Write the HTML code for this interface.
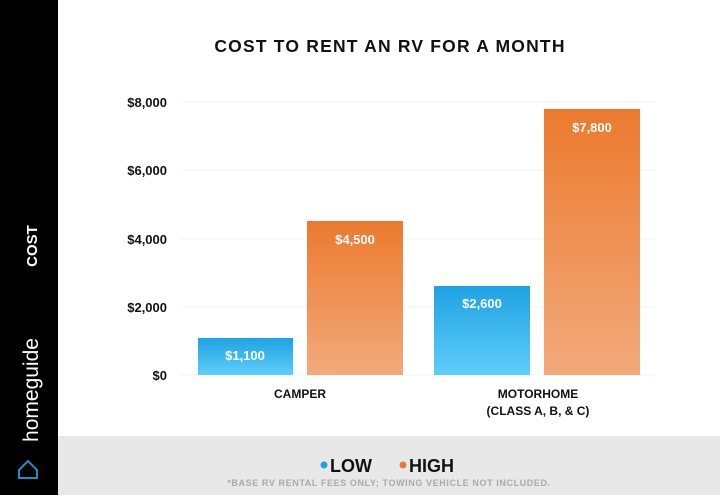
<!DOCTYPE html>
<html><head><style>
body{margin:0;width:720px;height:495px;overflow:hidden;background:#fff;font-family:"Liberation Sans",sans-serif;}
</style></head><body>
<svg width="720" height="495" viewBox="0 0 720 495" xmlns="http://www.w3.org/2000/svg" font-family="Liberation Sans, sans-serif">
<defs>
<linearGradient id="b" x1="0" y1="0" x2="0" y2="1"><stop offset="0" stop-color="#1fa2e4"/><stop offset="1" stop-color="#5fcdf9"/></linearGradient>
<linearGradient id="o" x1="0" y1="0" x2="0" y2="1"><stop offset="0" stop-color="#ec7a2e"/><stop offset="1" stop-color="#f2aa7c"/></linearGradient>
</defs>
<rect x="0" y="0" width="58" height="495" fill="#000"/>
<rect x="58" y="436" width="662" height="59" fill="#e8e8e8"/>
<text x="390" y="52" font-size="17.5" font-weight="bold" text-anchor="middle" fill="#111" letter-spacing="1.2">COST TO RENT AN RV FOR A MONTH</text>
<text transform="translate(37,246) rotate(-90)" font-size="15" font-weight="bold" fill="#fff" text-anchor="middle">COST</text>
<text transform="translate(38,390) rotate(-90)" font-size="21" fill="#fff" text-anchor="middle">homeguide</text>
<path d="M19 470 L28 461 L37 470 L37 478 L19 478 Z" fill="none" stroke="#1a8fc4" stroke-width="2"/>
<g stroke="#f3f3f3" stroke-width="1">
<line x1="180" y1="102" x2="655" y2="102"/><line x1="180" y1="170" x2="655" y2="170"/>
<line x1="180" y1="239" x2="655" y2="239"/><line x1="180" y1="307" x2="655" y2="307"/>
<line x1="180" y1="375" x2="655" y2="375"/>
</g>
<g font-size="13" font-weight="bold" fill="#111" text-anchor="end">
<text x="167" y="107">$8,000</text><text x="167" y="175">$6,000</text>
<text x="167" y="244">$4,000</text><text x="167" y="312">$2,000</text><text x="167" y="380">$0</text>
</g>
<rect x="198" y="338" width="95" height="37" fill="url(#b)"/>
<rect x="307" y="221" width="96" height="154" fill="url(#o)"/>
<rect x="434" y="286" width="96" height="89" fill="url(#b)"/>
<rect x="544" y="109" width="96" height="266" fill="url(#o)"/>
<g font-size="13" font-weight="bold" fill="#fff" text-anchor="middle">
<text x="245" y="360">$1,100</text><text x="355" y="244">$4,500</text>
<text x="482" y="308">$2,600</text><text x="592" y="132">$7,800</text>
</g>
<g font-size="12" font-weight="bold" fill="#111" text-anchor="middle">
<text x="300" y="398">CAMPER</text>
<text x="538" y="398">MOTORHOME</text><text x="538" y="415">(CLASS A, B, &amp; C)</text>
</g>
<circle cx="324" cy="465" r="3.5" fill="#1fa2e4"/>
<text x="330" y="472" font-size="18" font-weight="bold" fill="#111">LOW</text>
<circle cx="403" cy="465" r="3.5" fill="#ec7a2e"/>
<text x="409" y="472" font-size="18" font-weight="bold" fill="#111">HIGH</text>
<text x="389" y="486" font-size="9" font-weight="bold" fill="#aaa" text-anchor="middle" letter-spacing="0.6">*BASE RV RENTAL FEES ONLY; TOWING VEHICLE NOT INCLUDED.</text>
</svg>
</body></html>
